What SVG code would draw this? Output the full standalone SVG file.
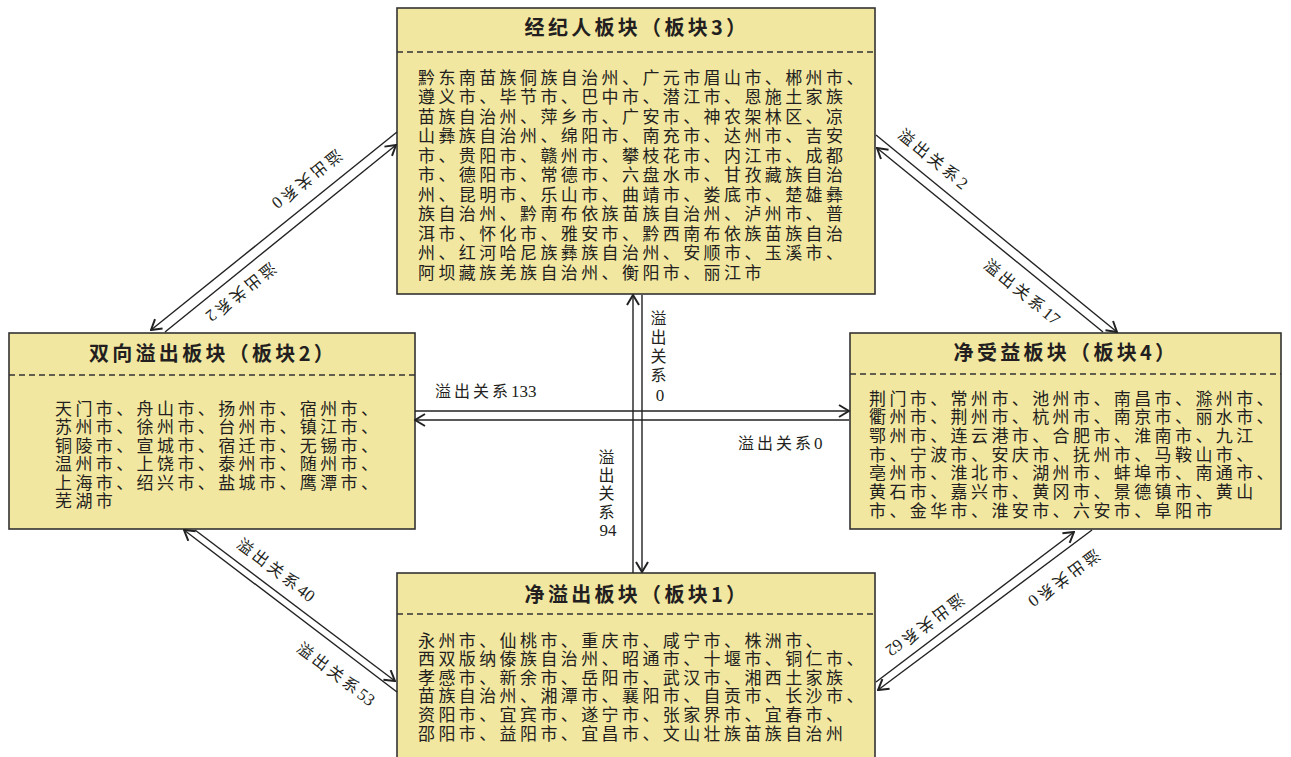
<svg xmlns="http://www.w3.org/2000/svg" width="1291" height="757" viewBox="0 0 1291 757">
<style>
.box{fill:#f2e7a0;stroke:#333;stroke-width:1.6}
.dash{stroke:#333;stroke-width:1.3;stroke-dasharray:6 4;fill:none}
.title{font-family:"Noto Sans CJK SC",sans-serif;font-weight:700;font-size:20px;letter-spacing:3.3px;fill:#231f20;text-anchor:middle}
.body{font-family:"Noto Sans CJK SC",sans-serif;font-size:17px;letter-spacing:3.4px;fill:#231f20}
.edge{stroke:#222;stroke-width:1.4;fill:none;marker-end:url(#arr)}
.lbl{font-family:"Liberation Serif","Noto Sans CJK SC",serif;font-size:16px;letter-spacing:3px;fill:#231f20}
.dl{text-anchor:middle;dominant-baseline:central}
.vl{text-anchor:middle}
.n{letter-spacing:0;font-size:17px}
</style>
<defs>
<marker id="arr" viewBox="0 0 12 14" refX="11" refY="7" markerWidth="12" markerHeight="14" markerUnits="userSpaceOnUse" orient="auto">
<path d="M1,1 L11,7 L1,13" fill="none" stroke="#222" stroke-width="2"/>
</marker>
</defs>
<rect width="1291" height="757" fill="#fff"/>

<g id="node-block3">
<rect class="box" x="397" y="8" width="478" height="286"/>
<text class="title" x="637" y="35">经纪人板块（板块3）</text>
<line class="dash" x1="397" y1="52" x2="875" y2="52"/>
<text class="body" x="418" y="83.5">黔东南苗族侗族自治州、广元市眉山市、郴州市、</text>
<text class="body" x="418" y="103">遵义市、毕节市、巴中市、潜江市、恩施土家族</text>
<text class="body" x="418" y="122.5">苗族自治州、萍乡市、广安市、神农架林区、凉</text>
<text class="body" x="418" y="142">山彝族自治州、绵阳市、南充市、达州市、吉安</text>
<text class="body" x="418" y="161.5">市、贵阳市、赣州市、攀枝花市、内江市、成都</text>
<text class="body" x="418" y="181">市、德阳市、常德市、六盘水市、甘孜藏族自治</text>
<text class="body" x="418" y="200.5">州、昆明市、乐山市、曲靖市、娄底市、楚雄彝</text>
<text class="body" x="418" y="220">族自治州、黔南布依族苗族自治州、泸州市、普</text>
<text class="body" x="418" y="239.5">洱市、怀化市、雅安市、黔西南布依族苗族自治</text>
<text class="body" x="418" y="259">州、红河哈尼族彝族自治州、安顺市、玉溪市、</text>
<text class="body" x="418" y="278.5">阿坝藏族羌族自治州、衡阳市、丽江市</text>
</g>

<g id="node-block2">
<rect class="box" x="9" y="333" width="406" height="196"/>
<text class="title" x="213" y="361">双向溢出板块（板块2）</text>
<line class="dash" x1="9" y1="375" x2="415" y2="375"/>
<text class="body" x="55" y="414.5">天门市、舟山市、扬州市、宿州市、</text>
<text class="body" x="55" y="433">苏州市、徐州市、台州市、镇江市、</text>
<text class="body" x="55" y="451.5">铜陵市、宣城市、宿迁市、无锡市、</text>
<text class="body" x="55" y="470">温州市、上饶市、泰州市、随州市、</text>
<text class="body" x="55" y="488.5">上海市、绍兴市、盐城市、鹰潭市、</text>
<text class="body" x="55" y="507">芜湖市</text>
</g>

<g id="node-block4">
<rect class="box" x="850" y="333" width="431" height="196"/>
<text class="title" x="1066" y="360">净受益板块（板块4）</text>
<line class="dash" x1="850" y1="374" x2="1281" y2="374"/>
<text class="body" x="869" y="404.5">荆门市、常州市、池州市、南昌市、滁州市、</text>
<text class="body" x="869" y="423.2">衢州市、荆州市、杭州市、南京市、丽水市、</text>
<text class="body" x="869" y="441.9">鄂州市、连云港市、合肥市、淮南市、九江</text>
<text class="body" x="869" y="460.6">市、宁波市、安庆市、抚州市、马鞍山市、</text>
<text class="body" x="869" y="479.3">亳州市、淮北市、湖州市、蚌埠市、南通市、</text>
<text class="body" x="869" y="498">黄石市、嘉兴市、黄冈市、景德镇市、黄山</text>
<text class="body" x="869" y="516.7">市、金华市、淮安市、六安市、阜阳市</text>
</g>

<g id="node-block1">
<rect class="box" x="397" y="573" width="478" height="190"/>
<text class="title" x="637" y="602">净溢出板块（板块1）</text>
<line class="dash" x1="397" y1="614" x2="875" y2="614"/>
<text class="body" x="418" y="646.5">永州市、仙桃市、重庆市、咸宁市、株洲市、</text>
<text class="body" x="418" y="665.1">西双版纳傣族自治州、昭通市、十堰市、铜仁市、</text>
<text class="body" x="418" y="683.7">孝感市、新余市、岳阳市、武汉市、湘西土家族</text>
<text class="body" x="418" y="702.3">苗族自治州、湘潭市、襄阳市、自贡市、长沙市、</text>
<text class="body" x="418" y="720.9">资阳市、宜宾市、遂宁市、张家界市、宜春市、</text>
<text class="body" x="418" y="739.5">邵阳市、益阳市、宜昌市、文山壮族苗族自治州</text>
</g>

<g id="connectors">
<line class="edge" x1="397" y1="132" x2="151" y2="330"/>
<line class="edge" x1="165" y1="332" x2="396" y2="145"/>
<line class="edge" x1="876" y1="135" x2="1117" y2="332"/>
<line class="edge" x1="1103" y1="332" x2="877" y2="148"/>
<line class="edge" x1="415" y1="411" x2="849" y2="411"/>
<line class="edge" x1="849" y1="420" x2="415" y2="420"/>
<line class="edge" x1="633" y1="573" x2="633" y2="295"/>
<line class="edge" x1="642" y1="295" x2="642" y2="572"/>
<line class="edge" x1="397" y1="692" x2="184" y2="530"/>
<line class="edge" x1="195" y1="530" x2="395" y2="681"/>
<line class="edge" x1="876" y1="682" x2="1074" y2="532"/>
<line class="edge" x1="1092" y1="530" x2="878" y2="690"/>

<text class="lbl dl" transform="translate(307,179) rotate(141)">溢出关系<tspan class="n">0</tspan></text>
<text class="lbl dl" transform="translate(241,292) rotate(141)">溢出关系<tspan class="n">2</tspan></text>
<text class="lbl dl" transform="translate(933,159) rotate(39)">溢出关系<tspan class="n">2</tspan></text>
<text class="lbl dl" transform="translate(1022,292) rotate(39)">溢出关系<tspan class="n">17</tspan></text>
<text class="lbl dl" transform="translate(276,570) rotate(37)">溢出关系<tspan class="n">40</tspan></text>
<text class="lbl dl" transform="translate(336,674) rotate(37)">溢出关系<tspan class="n">53</tspan></text>
<text class="lbl dl" transform="translate(925,625) rotate(143)">溢出关系<tspan class="n">62</tspan></text>
<text class="lbl dl" transform="translate(1064,578) rotate(143)">溢出关系<tspan class="n">0</tspan></text>

<text class="lbl" x="435" y="397">溢出关系<tspan class="n">133</tspan></text>
<text class="lbl" x="738" y="449">溢出关系<tspan class="n">0</tspan></text>

<text class="lbl vl" x="660" y="324">溢</text>
<text class="lbl vl" x="660" y="343">出</text>
<text class="lbl vl" x="660" y="362">关</text>
<text class="lbl vl" x="660" y="381">系</text>
<text class="lbl vl n" x="660" y="401">0</text>

<text class="lbl vl" x="608" y="463">溢</text>
<text class="lbl vl" x="608" y="481">出</text>
<text class="lbl vl" x="608" y="499">关</text>
<text class="lbl vl" x="608" y="518">系</text>
<text class="lbl vl n" x="608" y="536">94</text>
</g>
</svg>
